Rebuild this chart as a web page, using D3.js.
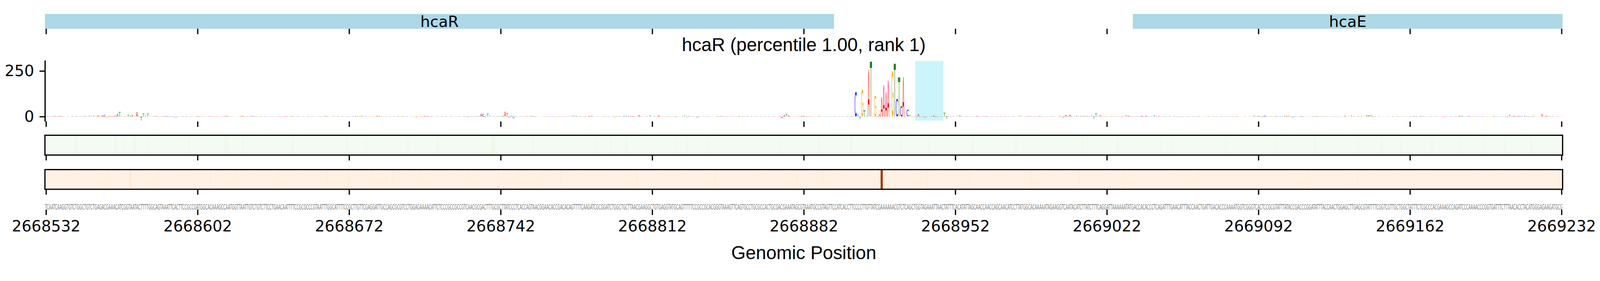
<!DOCTYPE html>
<html lang="en">
<head>
<meta charset="utf-8">
<title>hcaR attribution</title>
<script src="https://d3js.org/d3.v7.min.js"></script>
<style>
  html, body { margin: 0; padding: 0; width: 100%; height: 100%; overflow: hidden; background: white; }
  #chart { width: 100vw; height: 100vh; }
  svg { display: block; width: 100%; height: 100%; }
</style>
</head>
<body>
<div id="chart"></div>
<script>
// ---- values ----
var start = 2668532;
var tickPositions = [2668532, 2668602, 2668672, 2668742, 2668812, 2668882, 2668952, 2669022, 2669092, 2669162, 2669232];
var yTicks = [0, 250];
var yLim = [-27, 308];
var titleText = "hcaR (percentile 1.00, rank 1)";
var xLabel = "Genomic Position";

var sequence =
  "TCAATCAAGGTGTCTGGCTGTCTGAGACGAAACATCGGTAATACTTTTGGCAGTAAATTCACTTCCGCCGATGGCACAAAGCCAATGGTTAATTGTCTGTCTTCCTGAACAATTTTCC" +
  "GCGCCCGTAATTTGGCATTTTCCGCTTGTTCGAGGATTGCCAGCGCGTCCTGGAGAAAACATTCTCCCGCCGCCGTCAACGCGACTTTGCGCTTATCCCTCACCAGTAACGGAACACC" +
  "GACACAGTTTTCAAGATCGCGGATCTGGCTGCTTAACGAAGGCTGTGAGGTATGCAGTTTTTCCGCCGCACGGGTAAAGTTCAGTGCCTGCGCCACTGCGACGAAATAGCGTAAATGC" +
  "CGTAGTTCCATCACCTTCCCCTTGTTATCGAAAAAACGTCTCAGCTGGTAGAAATTAACTATTTCACATATTAGCAACCAACCAGCAACATCCTTATGGCACAAAAATAGAAGGTCAA" +
  "TACATCTTATCTTTCAGGATTAAAAAATATGACCACACCCTCAGATTTGAACATTTACCAACTGATTGACACCCAAAATGGTCGGGTCACTCCGCGTATTTATACCGACCCGGATATT" +
  "TACCAACTGGAGCTTGAGCGTATTTTCGGTCGTTGCTGGCTATTTCTCGCCCACGAAAGCCAGATCCCAAAACCCGGTGATTTCTTTAACACCTACATGGGAGAAGATGCG";

// attribution per position (letter height), one row = 20 positions
var attribution = [
  1,2,1,2,5,2,4,3,3,1,3,1,2,1,2,1,3,2,5,3,
  5,3,6,2,7,3,7,11,-6,3,4,3,5,17,24,2,3,3,11,6,
  9,3,24,2,-22,17,6,17,2,3,3,3,2,3,2,3,3,2,2,3,
  -4,2,1,2,1,2,1,2,1,-3,3,2,3,2,1,2,3,2,1,2,
  2,1,3,6,-3,3,2,2,1,3,4,6,-3,2,4,5,4,2,3,2,
  1,2,-3,1,2,-3,1,2,2,1,2,3,1,2,2,1,3,2,1,2,
  1,2,1,2,2,1,2,2,3,5,2,1,2,3,1,2,1,2,1,2,
  2,1,3,5,2,5,5,3,2,2,1,2,3,6,4,2,1,2,1,2,
  1,2,-3,2,4,2,1,2,1,3,2,-3,2,1,2,5,3,-3,2,3,
  1,2,1,2,1,2,1,2,1,2,1,2,1,2,2,-3,1,2,2,3,
  5,17,15,-4,17,5,2,2,2,3,2,6,27,20,-5,6,-10,2,1,2,
  2,1,3,2,5,3,2,1,2,1,2,1,2,1,2,1,2,1,2,1,
  2,2,3,4,5,4,3,2,1,2,1,5,5,2,1,2,1,3,2,3,
  2,1,4,-5,3,2,1,4,5,4,3,3,2,2,9,2,1,2,2,7,
  1,2,2,7,2,-3,3,2,2,1,2,-3,2,1,2,6,-4,4,2,2,
  1,-5,2,1,2,1,2,1,2,1,2,2,4,1,2,3,1,2,1,2,
  4,2,3,1,2,1,2,1,2,1,2,1,2,1,2,1,2,1,2,2,
  -10,11,15,8,2,1,2,3,2,5,5,2,4,2,1,2,1,4,2,1,
  2,1,2,1,2,1,2,1,2,1,2,1,2,3,137,12,-15,148,34,4,
  257,305,2,117,3,13,108,173,136,198,3,252,293,97,216,59,218,-5,36,9,
  3,-5,2,14,-3,2,-5,2,1,2,7,-3,2,3,2,22,-14,2,3,2,
  1,2,7,2,1,2,1,2,2,1,5,2,1,2,3,2,1,2,1,2,
  1,2,1,2,1,2,1,2,1,2,5,2,1,2,3,2,1,2,1,3,
  2,1,2,1,2,1,2,1,5,2,-6,10,2,12,-3,2,6,2,4,4,
  4,4,2,6,-12,16,2,8,-4,-4,2,3,2,1,2,1,2,-3,2,7,
  6,2,3,1,2,2,6,-3,6,2,1,2,7,2,4,2,1,2,1,2,
  1,2,1,2,1,2,1,2,2,1,2,1,2,2,1,2,1,2,1,2,
  1,2,1,2,1,2,1,2,2,1,2,1,2,1,2,1,2,2,6,2,
  5,2,-5,7,3,3,2,2,4,2,2,3,5,6,5,2,-5,2,2,1,
  -4,2,1,2,1,2,2,3,2,2,2,1,2,1,2,1,2,-3,2,1,
  6,2,1,6,2,1,2,-3,2,2,8,8,8,-5,2,1,2,1,2,1,
  2,1,2,1,2,2,3,3,2,1,2,2,4,2,1,4,2,1,2,1,
  2,1,2,1,2,2,-3,2,1,2,1,2,2,6,5,2,1,4,2,1,
  2,1,2,1,2,1,2,1,2,4,-3,2,1,2,2,-5,9,2,6,2,
  5,4,2,6,2,-3,2,5,2,2,1,14,2,6,2,-3,2,1,2,1,
  2
];

var genes = [
  {name: "hcaR", start: 2668400, end: 2668896},
  {name: "hcaE", start: 2669034, end: 2669400}
];
var highlightPos = [2668934, 2668946];
var highlightY = [-22, 305];

// heatmap strips: background level and spots [index, level]
var greenBase = 0.02;
var greenSpots = [[14,.05],[32,.05],[36,.04],[41,.05],[47,.04],[66,.04],[83,.05],[84,.04],[91,.04],[114,.04],
  [139,.05],[148,.04],[167,.04],[181,.04],[206,.07],[207,.06],[225,.04],[254,.04],[261,.04],[268,.04],
  [291,.04],[296,.04],[306,.04],[339,.04],[357,.04],[372,.05],[395,.04],[408,.05],[428,.04],[448,.04],
  [479,.05],[481,.04],[495,.04],[515,.04],[520,.04],[545,.04],[568,.05],[586,.04],[606,.04],[617,.04],
  [626,.04],[640,.04],[653,.04],[664,.04],[674,.04],[686,.04]];
var orangeBase = 0.025;
var orangeSpots = [[29,.05],[39,.09],[52,.05],[76,.05],[88,.05],[107,.05],[130,.05],[140,.05],[151,.05],
  [160,.05],[173,.05],[195,.05],[209,.05],[218,.05],[229,.05],[238,.05],[273,.05],[309,.05],[347,.05],
  [359,.05],[386,.88],[407,.06],[427,.05],[455,.05],[477,.05],[498,.05],[532,.05],[583,.05],[606,.05],[699,.05]];

var baseColors = {A: "#ff0000", C: "#0000ff", G: "#ffa500", T: "#008000"};

// ---- drawing ----
// fixed 4320x720 drawing space, scaled to the window and pinned top-left
var svg = d3.select("#chart").append("svg")
    .attr("viewBox", "0 0 4320 720")
    .attr("preserveAspectRatio", "xMinYMin meet");

var x = d3.scaleLinear()
    .domain([start - 0.5, start + sequence.length - 0.5])
    .range([121.3, 4219]);
var xMid = (x.range()[0] + x.range()[1]) / 2;

var genePanel = {top: 37.7, bottom: 77.7};
var logoPanel = {top: 163.1, bottom: 328.3};
var heat1 = {top: 365.5, bottom: 419};
var heat2 = {top: 458.3, bottom: 511.5};
var seqBottom = 566.5;

function bottomTicks(yPos, withLabels) {
  var ax = d3.axisBottom(x).tickValues(tickPositions)
      .tickSize(14.6).tickSizeOuter(0).tickPadding(14.6)
      .tickFormat(withLabels ? d3.format("d") : "");
  var g = svg.append("g").attr("transform", "translate(0," + yPos + ")").call(ax);
  g.select(".domain").remove();
  g.selectAll(".tick line").attr("stroke", "#000").attr("stroke-width", 3.33);
  g.selectAll(".tick text").attr("font-family", "DejaVu Sans").attr("font-size", 41.67).attr("fill", "#000");
  return g;
}

// gene track
var d0 = x.domain()[0], d1 = x.domain()[1];
var geneG = svg.append("g");
genes.forEach(function(g) {
  var a = x(Math.max(g.start, d0)), b = x(Math.min(g.end, d1));
  geneG.append("rect")
      .attr("x", a).attr("y", genePanel.top)
      .attr("width", b - a).attr("height", genePanel.bottom - genePanel.top)
      .attr("fill", "lightblue");
  geneG.append("text")
      .attr("x", (a + b) / 2).attr("y", (genePanel.top + genePanel.bottom) / 2 + 15.2)
      .attr("text-anchor", "middle")
      .attr("font-family", "DejaVu Sans").attr("font-size", 41.67)
      .text(g.name);
});
bottomTicks(genePanel.bottom, false);

// title
svg.append("text")
    .attr("x", xMid).attr("y", 138)
    .attr("text-anchor", "middle")
    .attr("font-family", "Liberation Sans, Arial, sans-serif").attr("font-size", 50)
    .text(titleText);

// logo
var y = d3.scaleLinear().domain(yLim).range([logoPanel.bottom, logoPanel.top]);

svg.append("rect")
    .attr("x", x(highlightPos[0] - 0.5))
    .attr("width", x(highlightPos[1] + 0.5) - x(highlightPos[0] - 0.5))
    .attr("y", y(highlightY[1]))
    .attr("height", y(highlightY[0]) - y(highlightY[1]))
    .attr("fill", "#cbf4fb");

var ctx = document.createElement("canvas").getContext("2d");
ctx.font = "100px 'DejaVu Sans'";
var glyphBox = {};
"ACGT".split("").forEach(function(b) {
  var m = ctx.measureText(b);
  glyphBox[b] = {l: m.actualBoundingBoxLeft, r: m.actualBoundingBoxRight,
                 a: m.actualBoundingBoxAscent, d: m.actualBoundingBoxDescent};
});

var logoData = attribution.map(function(v, i) {
  return {pos: start + i, base: sequence[i], v: v};
});

svg.append("g").selectAll("text")
    .data(logoData.filter(function(d) { return d.v !== 0; }))
    .enter().append("text")
    .attr("font-family", "DejaVu Sans").attr("font-size", 100)
    .attr("fill", function(d) { return baseColors[d.base]; })
    .attr("transform", function(d) {
      var bb = glyphBox[d.base];
      var x0 = x(d.pos - 0.47), x1 = x(d.pos + 0.47);
      var yt = y(Math.max(d.v, 0)), yb = y(Math.min(d.v, 0));
      var sx = (x1 - x0) / (bb.l + bb.r), sy = (yb - yt) / (bb.a + bb.d);
      return "translate(" + x0 + "," + yt + ") scale(" + sx + "," + sy + ") translate(" + bb.l + "," + bb.a + ")";
    })
    .text(function(d) { return d.base; });

var yAx = svg.append("g").attr("transform", "translate(" + x.range()[0] + ",0)")
    .call(d3.axisLeft(y).tickValues(yTicks).tickSize(14.6).tickSizeOuter(0).tickPadding(14.6));
yAx.select(".domain").attr("stroke", "#000").attr("stroke-width", 3.33);
yAx.selectAll(".tick line").attr("stroke", "#000").attr("stroke-width", 3.33);
yAx.selectAll(".tick text").attr("font-family", "DejaVu Sans").attr("font-size", 41.67).attr("fill", "#000");
bottomTicks(logoPanel.bottom, false);

// heatmap strips
function strip(panel, base, spots, interp) {
  var spotMap = new Map(spots);
  var vals = d3.range(sequence.length).map(function(i) {
    return spotMap.has(i) ? spotMap.get(i) : base;
  });
  var g = svg.append("g");
  g.selectAll("rect.cell")
      .data(vals)
      .enter().append("rect")
      .attr("class", "cell")
      .attr("x", function(d, i) { return x(start + i - 0.5); })
      .attr("width", function(d, i) { return x(start + i + 0.5) - x(start + i - 0.5) + 0.4; })
      .attr("y", panel.top).attr("height", panel.bottom - panel.top)
      .attr("fill", function(d) { return interp(d); });
  g.append("rect")
      .attr("x", x.range()[0]).attr("y", panel.top)
      .attr("width", x.range()[1] - x.range()[0]).attr("height", panel.bottom - panel.top)
      .attr("fill", "none").attr("stroke", "#000").attr("stroke-width", 3.33);
  bottomTicks(panel.bottom, false);
}
strip(heat1, greenBase, greenSpots, d3.interpolateGreens);
strip(heat2, orangeBase, orangeSpots, d3.interpolateOranges);

// sequence row
svg.append("text")
    .attr("x", x.range()[0]).attr("y", seqBottom)
    .attr("textLength", x.range()[1] - x.range()[0])
    .attr("lengthAdjust", "spacingAndGlyphs")
    .attr("font-family", "DejaVu Sans").attr("font-size", 21)
    .attr("fill", "#808080")
    .text(sequence);
bottomTicks(seqBottom, true);

// x label
svg.append("text")
    .attr("x", xMid).attr("y", 700)
    .attr("text-anchor", "middle")
    .attr("font-family", "Liberation Sans, Arial, sans-serif").attr("font-size", 50)
    .text(xLabel);
</script>
</body>
</html>
